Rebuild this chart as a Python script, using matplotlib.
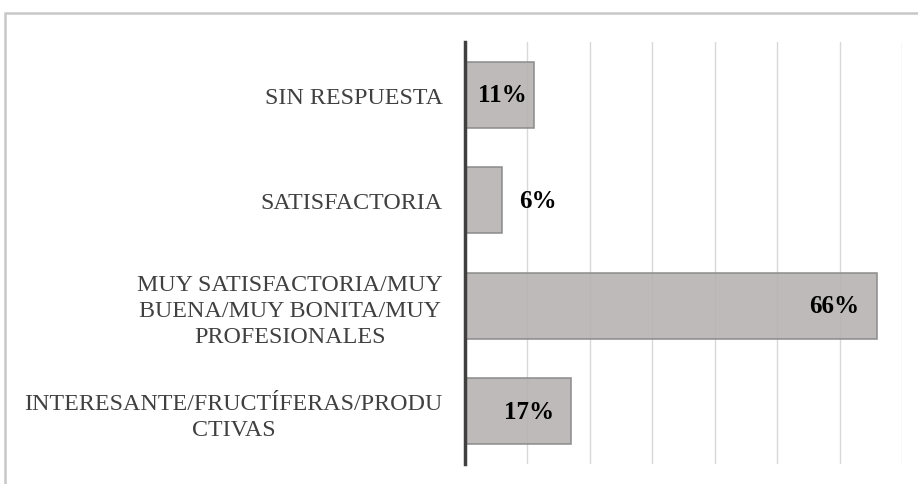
import matplotlib
matplotlib.use("Agg")
import matplotlib.pyplot as plt
from matplotlib.patches import Rectangle

plt.rcParams['font.family'] = ['Liberation Serif', 'DejaVu Serif']

categories = ['INTERESANTE/FRUCTÍFERAS/PRODU\nCTIVAS',
              'MUY SATISFACTORIA/MUY\nBUENA/MUY BONITA/MUY\nPROFESIONALES',
              'SATISFACTORIA',
              'SIN RESPUESTA']
values = [17, 66, 6, 11]
labels = ['17%', '66%', '6%', '11%']

W, H = 918, 485
fig = plt.figure(figsize=(W / 100, H / 100), dpi=100)
# outer chart border (runs off the right and bottom edges)
fig.patches.append(Rectangle((5 / W, -0.1), 1.1, 1 - 14 / H + 0.1,
                             transform=fig.transFigure, fill=False,
                             edgecolor='#c8c8c8', linewidth=1.8))

ax = fig.add_axes([465 / W, 1 - 465 / H, (902 - 465) / W, (465 - 43) / H])

ypos = range(len(categories))
ax.barh(ypos, values, height=0.63, color='#b7b3b2', alpha=0.9,
        edgecolor='#8a8a8a', linewidth=1.2, zorder=2)

for y, v, t in zip(ypos, values, labels):
    if v < 8:
        ax.text(v + 2.6, y, t, ha='left', va='center', fontsize=18,
                fontweight='bold', color='black', zorder=3)
    elif v < 12:
        ax.text(v - 1.1, y, t, ha='right', va='center', fontsize=18,
                fontweight='bold', color='black', zorder=3)
    else:
        ax.text(v - 2.8, y, t, ha='right', va='center', fontsize=18,
                fontweight='bold', color='black', zorder=3)

ax.set_xlim(0, 70)
ax.set_ylim(-0.5, len(categories) - 0.5)
ax.set_xticks(range(0, 71, 10))
ax.xaxis.grid(True, color='#d9d9d9', linewidth=1, zorder=0)
ax.set_axisbelow(True)
ax.tick_params(axis='x', length=0, labelbottom=False)
ax.tick_params(axis='y', length=0, pad=16, labelsize=17.3, labelcolor='#404040')
ax.set_yticks(list(ypos))
ax.set_yticklabels(categories, multialignment='center', linespacing=1.3)

for s in ['top', 'right', 'bottom']:
    ax.spines[s].set_visible(False)
ax.spines['left'].set_color('#404040')
ax.spines['left'].set_linewidth(2.5)
ax.spines['left'].set_zorder(4)

fig.savefig('out.png', dpi=100)
